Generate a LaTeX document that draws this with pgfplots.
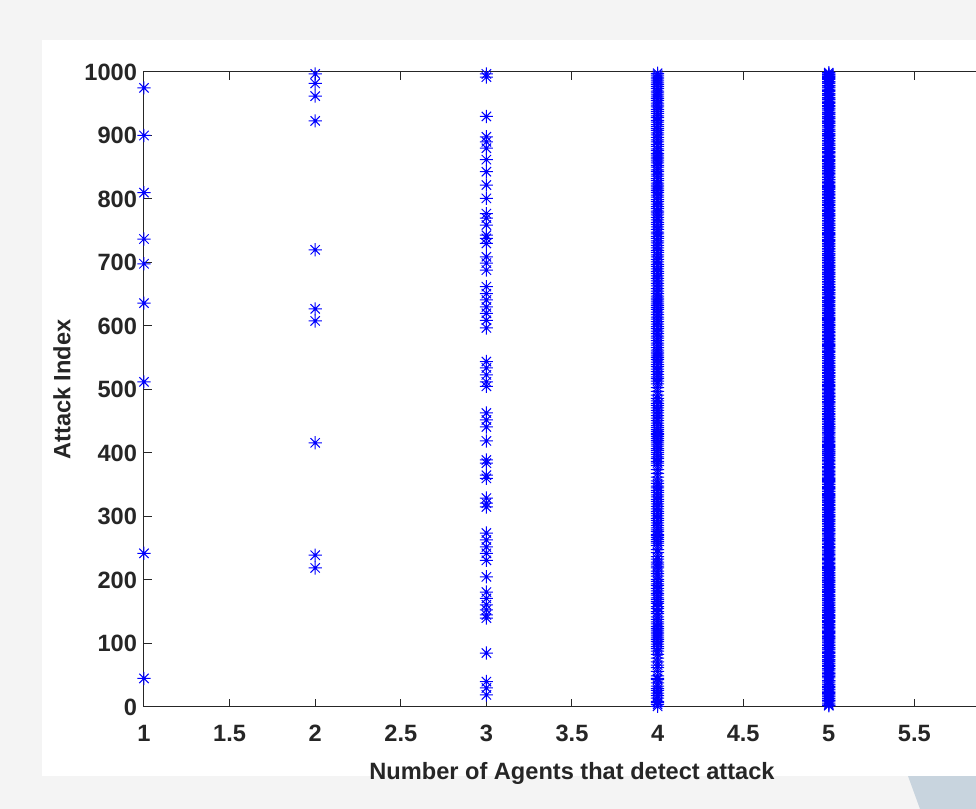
\documentclass[border=0pt]{standalone}
\usepackage{fontspec}
\setmainfont{Liberation Sans}
\usepackage{pgfplots}
\pgfplotsset{compat=1.18}
\definecolor{axgray}{rgb}{0.15,0.15,0.15}
\definecolor{bgblue}{RGB}{200,212,222}
\pgfdeclareplotmark{mstar}{%
 \pgfpathmoveto{\pgfqpoint{-\pgfplotmarksize}{0pt}}\pgfpathlineto{\pgfqpoint{\pgfplotmarksize}{0pt}}%
 \pgfpathmoveto{\pgfqpoint{0pt}{-\pgfplotmarksize}}\pgfpathlineto{\pgfqpoint{0pt}{\pgfplotmarksize}}%
 \pgfpathmoveto{\pgfqpoint{-0.7071\pgfplotmarksize}{-0.7071\pgfplotmarksize}}\pgfpathlineto{\pgfqpoint{0.7071\pgfplotmarksize}{0.7071\pgfplotmarksize}}%
 \pgfpathmoveto{\pgfqpoint{-0.7071\pgfplotmarksize}{0.7071\pgfplotmarksize}}\pgfpathlineto{\pgfqpoint{0.7071\pgfplotmarksize}{-0.7071\pgfplotmarksize}}%
 \pgfusepathqstroke}
\pgfplotsset{mst/.style={only marks, mark=mstar, mark size=3.3pt, color=blue, line width=0.5pt, mark options={solid, line width=0.5pt}}}
\begin{document}
\begin{tikzpicture}
\useasboundingbox (-72pt,-51pt) rectangle (416pt,353.5pt);
\clip (-72pt,-51pt) rectangle (416pt,353.5pt);
\fill[gray!9] (-72pt,-51pt) rectangle (416pt,353.5pt);
\fill[bgblue] (382pt,-34.5pt) -- (416pt,-34.5pt) -- (416pt,-51pt) -- (388pt,-51pt) -- cycle;
\fill[white] (-51pt,-34.5pt) rectangle (416pt,333.5pt);
\begin{axis}[
  at={(0,0)}, anchor=south west,
  scale only axis, width=428pt, height=317.5pt,
  xmin=1, xmax=6, ymin=0, ymax=1000,
  xtick={1,1.5,2,2.5,3,3.5,4,4.5,5,5.5},
  xticklabels={1,1.5,2,2.5,3,3.5,4,4.5,5,5.5},
  ytick={0,100,200,300,400,500,600,700,800,900,1000},
  yticklabels={0,100,200,300,400,500,600,700,800,900,1000},
  scaled ticks=false,
  tick align=inside, major tick length=4pt,
  axis line style={axgray, line width=0.5pt},
  tick style={axgray, line width=0.5pt},
  ticklabel style={font=\fontsize{11.8}{14}\selectfont\bfseries, text=axgray},
  xticklabel style={yshift=-5.5pt},
  label style={font=\fontsize{11.8}{14}\selectfont\bfseries, text=axgray},
  xlabel={Number of Agents that detect attack},
  ylabel={Attack Index},
  xlabel style={at={(axis description cs:0.5,-0.1040)}, anchor=center},
  ylabel style={at={(axis description cs:-0.0958,0.5)}, anchor=center},
]
\addplot[mst] coordinates {(1,975)(1,900)(1,810)(1,737)(1,698)(1,636)(1,512)(1,242)(1,45)};
\addplot[mst] coordinates {(2,997)(2,982)(2,962)(2,923)(2,720)(2,627)(2,608)(2,416)(2,239)(2,219)};
\addplot[mst] coordinates {(3,997)(3,992)(3,930)(3,898)(3,890)(3,880)(3,862)(3,843)(3,822)(3,801)(3,777)(3,770)(3,759)(3,743)(3,738)(3,730)(3,709)(3,699)(3,688)(3,662)(3,651)(3,641)(3,630)(3,620)(3,609)(3,597)(3,544)(3,534)(3,523)(3,512)(3,505)(3,463)(3,452)(3,441)(3,419)(3,389)(3,384)(3,365)(3,360)(3,329)(3,321)(3,315)(3,274)(3,263)(3,252)(3,242)(3,231)(3,205)(3,181)(3,171)(3,161)(3,153)(3,145)(3,140)(3,85)(3,40)(3,30)(3,19)};
\addplot[mst] coordinates {(4,1)(4,4)(4,7)(4,9)(4,14)(4,18)(4,22)(4,26)(4,29)(4,33)(4,38)(4,43)(4,45)(4,49)(4,56)(4,62)(4,66)(4,71)(4,77)(4,83)(4,88)(4,92)(4,95)(4,99)(4,103)(4,106)(4,109)(4,112)(4,115)(4,118)(4,121)(4,124)(4,127)(4,131)(4,134)(4,138)(4,142)(4,147)(4,150)(4,155)(4,158)(4,163)(4,166)(4,169)(4,172)(4,176)(4,179)(4,183)(4,187)(4,191)(4,194)(4,198)(4,201)(4,206)(4,210)(4,214)(4,219)(4,222)(4,225)(4,228)(4,233)(4,237)(4,243)(4,248)(4,254)(4,258)(4,261)(4,264)(4,267)(4,270)(4,272)(4,276)(4,279)(4,282)(4,286)(4,290)(4,294)(4,297)(4,301)(4,305)(4,308)(4,312)(4,316)(4,320)(4,324)(4,327)(4,331)(4,334)(4,338)(4,341)(4,345)(4,348)(4,352)(4,356)(4,362)(4,368)(4,374)(4,380)(4,384)(4,387)(4,391)(4,394)(4,398)(4,401)(4,404)(4,407)(4,411)(4,414)(4,417)(4,420)(4,423)(4,426)(4,429)(4,431)(4,434)(4,437)(4,440)(4,443)(4,447)(4,451)(4,455)(4,459)(4,463)(4,467)(4,471)(4,475)(4,478)(4,482)(4,486)(4,491)(4,497)(4,503)(4,509)(4,513)(4,517)(4,520)(4,524)(4,528)(4,532)(4,536)(4,539)(4,543)(4,547)(4,550)(4,553)(4,556)(4,559)(4,562)(4,566)(4,570)(4,573)(4,577)(4,581)(4,584)(4,588)(4,592)(4,596)(4,599)(4,603)(4,607)(4,611)(4,614)(4,618)(4,622)(4,626)(4,629)(4,632)(4,635)(4,638)(4,641)(4,644)(4,647)(4,651)(4,655)(4,659)(4,663)(4,667)(4,671)(4,675)(4,679)(4,683)(4,686)(4,690)(4,694)(4,697)(4,701)(4,705)(4,709)(4,712)(4,716)(4,719)(4,723)(4,727)(4,731)(4,734)(4,738)(4,741)(4,745)(4,748)(4,752)(4,756)(4,760)(4,763)(4,767)(4,771)(4,775)(4,778)(4,781)(4,785)(4,788)(4,792)(4,796)(4,799)(4,803)(4,806)(4,810)(4,813)(4,816)(4,819)(4,822)(4,825)(4,829)(4,832)(4,836)(4,839)(4,843)(4,846)(4,850)(4,853)(4,857)(4,860)(4,863)(4,866)(4,869)(4,872)(4,876)(4,879)(4,883)(4,886)(4,890)(4,893)(4,897)(4,901)(4,904)(4,908)(4,911)(4,914)(4,917)(4,921)(4,924)(4,928)(4,931)(4,935)(4,938)(4,941)(4,945)(4,948)(4,951)(4,955)(4,958)(4,961)(4,964)(4,967)(4,970)(4,974)(4,977)(4,980)(4,983)(4,986)(4,989)(4,992)(4,995)(4,998)};
\addplot[mst] coordinates {(5,2)(5,3)(5,5)(5,8)(5,10)(5,11)(5,13)(5,16)(5,17)(5,19)(5,21)(5,23)(5,24)(5,27)(5,28)(5,31)(5,32)(5,35)(5,36)(5,39)(5,41)(5,42)(5,46)(5,48)(5,50)(5,52)(5,53)(5,55)(5,58)(5,60)(5,61)(5,64)(5,65)(5,68)(5,69)(5,72)(5,74)(5,75)(5,78)(5,80)(5,81)(5,84)(5,86)(5,87)(5,90)(5,91)(5,93)(5,94)(5,97)(5,98)
(5,101)(5,102)(5,104)(5,107)(5,108)(5,110)(5,111)(5,113)(5,116)(5,117)(5,119)(5,120)(5,123)(5,125)(5,126)(5,129)(5,130)(5,133)(5,135)(5,136)(5,139)(5,141)(5,143)(5,144)(5,146)(5,149)(5,151)(5,152)(5,154)(5,156)(5,157)(5,160)(5,162)(5,164)(5,165)(5,168)(5,170)(5,171)(5,174)(5,175)(5,177)(5,180)(5,182)(5,184)(5,185)(5,188)(5,189)(5,192)(5,193)(5,196)(5,197)(5,199)
(5,200)(5,203)(5,204)(5,207)(5,208)(5,211)(5,212)(5,215)(5,217)(5,218)(5,220)(5,221)(5,224)(5,226)(5,227)(5,230)(5,232)(5,234)(5,235)(5,238)(5,240)(5,241)(5,244)(5,246)(5,247)(5,250)(5,251)(5,253)(5,256)(5,257)(5,260)(5,262)(5,263)(5,265)(5,266)(5,269)(5,271)(5,273)(5,274)(5,277)(5,278)(5,280)(5,281)(5,284)(5,285)(5,288)(5,289)(5,292)(5,293)(5,295)(5,296)(5,299)
(5,300)(5,302)(5,303)(5,306)(5,307)(5,310)(5,311)(5,313)(5,314)(5,317)(5,318)(5,319)(5,322)(5,323)(5,325)(5,326)(5,329)(5,330)(5,332)(5,333)(5,335)(5,336)(5,339)(5,340)(5,343)(5,344)(5,346)(5,347)(5,350)(5,351)(5,354)(5,355)(5,357)(5,358)(5,360)(5,361)(5,364)(5,366)(5,367)(5,370)(5,371)(5,373)(5,376)(5,377)(5,379)(5,382)(5,383)(5,386)(5,388)(5,389)(5,392)(5,393)(5,396)(5,397)(5,399)
(5,400)(5,402)(5,403)(5,405)(5,406)(5,409)(5,410)(5,412)(5,413)(5,416)(5,418)(5,419)(5,422)(5,424)(5,425)(5,428)(5,430)(5,432)(5,433)(5,436)(5,438)(5,439)(5,441)(5,442)(5,445)(5,446)(5,449)(5,450)(5,453)(5,454)(5,457)(5,458)(5,461)(5,462)(5,465)(5,466)(5,469)(5,470)(5,473)(5,474)(5,477)(5,479)(5,480)(5,481)(5,484)(5,485)(5,488)(5,489)(5,490)(5,493)(5,494)(5,496)(5,499)
(5,500)(5,502)(5,505)(5,506)(5,508)(5,511)(5,512)(5,515)(5,516)(5,519)(5,521)(5,522)(5,525)(5,526)(5,527)(5,530)(5,531)(5,534)(5,535)(5,537)(5,538)(5,541)(5,542)(5,545)(5,546)(5,549)(5,551)(5,552)(5,555)(5,558)(5,560)(5,561)(5,564)(5,565)(5,568)(5,569)(5,571)(5,572)(5,575)(5,576)(5,579)(5,580)(5,583)(5,585)(5,586)(5,589)(5,590)(5,591)(5,594)(5,595)(5,598)
(5,600)(5,601)(5,602)(5,605)(5,606)(5,609)(5,610)(5,612)(5,613)(5,616)(5,617)(5,620)(5,621)(5,624)(5,625)(5,627)(5,628)(5,631)(5,633)(5,634)(5,637)(5,639)(5,640)(5,643)(5,645)(5,646)(5,649)(5,650)(5,652)(5,653)(5,656)(5,657)(5,658)(5,661)(5,662)(5,665)(5,666)(5,669)(5,670)(5,673)(5,674)(5,677)(5,678)(5,681)(5,682)(5,684)(5,685)(5,688)(5,689)(5,692)(5,693)(5,695)(5,696)(5,699)
(5,700)(5,703)(5,704)(5,707)(5,708)(5,711)(5,713)(5,714)(5,717)(5,718)(5,721)(5,722)(5,725)(5,726)(5,729)(5,730)(5,733)(5,735)(5,736)(5,739)(5,740)(5,743)(5,744)(5,746)(5,747)(5,750)(5,751)(5,754)(5,755)(5,758)(5,759)(5,761)(5,762)(5,765)(5,766)(5,769)(5,770)(5,773)(5,774)(5,776)(5,777)(5,780)(5,782)(5,783)(5,786)(5,787)(5,790)(5,791)(5,794)(5,795)(5,797)(5,798)
(5,801)(5,802)(5,805)(5,807)(5,808)(5,811)(5,812)(5,815)(5,817)(5,818)(5,820)(5,821)(5,824)(5,826)(5,827)(5,830)(5,831)(5,834)(5,835)(5,838)(5,840)(5,841)(5,844)(5,845)(5,848)(5,849)(5,851)(5,852)(5,855)(5,856)(5,859)(5,861)(5,862)(5,865)(5,867)(5,868)(5,871)(5,873)(5,874)(5,875)(5,878)(5,880)(5,881)(5,884)(5,885)(5,887)(5,888)(5,891)(5,892)(5,895)(5,896)(5,899)
(5,900)(5,902)(5,903)(5,906)(5,907)(5,909)(5,910)(5,913)(5,915)(5,916)(5,919)(5,920)(5,922)(5,923)(5,926)(5,927)(5,929)(5,930)(5,933)(5,934)(5,936)(5,937)(5,940)(5,942)(5,943)(5,946)(5,947)(5,950)(5,952)(5,953)(5,956)(5,957)(5,959)(5,960)(5,963)(5,965)(5,966)(5,969)(5,971)(5,972)(5,975)(5,976)(5,978)(5,979)(5,982)(5,984)(5,985)(5,988)(5,990)(5,991)(5,993)(5,994)(5,996)(5,997)(5,999)};
\end{axis}
\end{tikzpicture}
\end{document}
